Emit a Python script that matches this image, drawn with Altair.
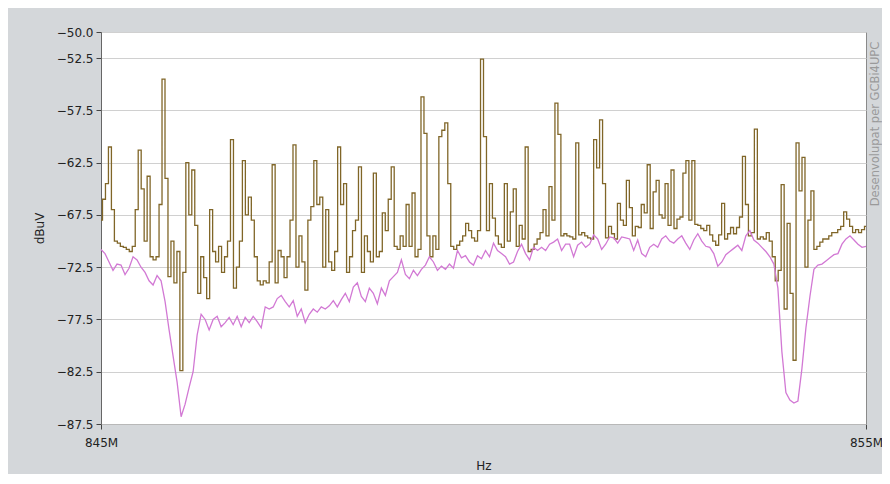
import altair as alt
import numpy as np
import pandas as pd

# Olive/brown trace (peak hold), read left to right
olive_vals = [
    -68, -66, -64.5, -61, -67, -70, -70.2, -70.5, -70.6, -70.8, -71, -70.5, -67, -61.3, -65, -70, -63.8,
    -71.5, -71.8, -71.5, -66.5, -54.5, -64, -73.4, -70, -74, -71, -82.4, -73, -62.5, -67.5, -63.2, -68.5,
    -75, -71.5, -73.5, -75.5, -67, -71, -72, -70.5, -73, -71.5,
    -70, -60.3, -74.5, -72.5, -70, -62.3, -67.5, -65.8, -68, -71.5, -73.8, -74.2, -73.8, -74, -72, -62.7,
    -74, -70.9, -71.5, -73.5, -71.5, -68, -60.8, -72.5, -69.5, -72, -74.7, -68, -66.7, -62.3, -66.5, -65.8,
    -72.5, -67, -72, -72.8, -71, -61, -66.5, -64.5, -73, -71.5, -69,
    -68, -62.9, -73, -69.5, -71, -72, -63.5, -71.5, -71, -67.3, -69, -66, -62.9, -70.5, -70.8, -69.5,
    -70.5, -66.5, -70.5, -65.4, -71.5, -70.8, -56.2, -59.7, -69.5, -71.5, -69.5, -70.8, -60, -59.4, -58.7,
    -64.5, -70.5, -70.8, -70.4, -70, -69.5, -68.3, -69, -69.7, -70, -69, -52.6,
    -60, -69, -64.5, -67.8, -69.5, -70.3, -70.6, -64.5, -70, -67.2, -65, -70.5, -68.5, -69.8, -61, -71,
    -70.8, -70.3, -69.8, -69.2, -67, -69.5, -64.8, -68, -56.8, -59.8, -69.5, -69.3, -69.5, -69.6, -69.8,
    -60.6, -69.4, -69.2, -69.5, -69.7, -69.8, -60.3, -63, -58.4, -64.5, -69.7, -68.6,
    -69.3, -69.8, -66.4, -68, -68.5, -64.2, -66.8, -69.5, -68.6, -68.7, -66.5, -67.3, -62.7, -68.8, -65.3,
    -64.2, -67.5, -67.8, -64.5, -68.5, -63.2, -68.8, -67.9, -67.7, -63.5, -62.3, -68, -62.3, -68.4, -68.5,
    -68.8, -69, -68.5, -69.4, -70, -70.4, -69.4, -66.4, -69.8, -69.3, -68.7, -69.3, -68.7,
    -67.7, -61.9, -66.5, -69.5, -69.2, -59.3, -69.8, -69.6, -69.8, -69.2, -70, -71.5, -73.8, -72.8, -64.6,
    -76.5, -68.3, -75, -81.4, -60.6, -65.2, -62, -72.5, -68, -65.2, -70.8, -70.5, -70.1, -69.8, -69.8,
    -69.5, -69.2, -69.2, -68.9, -68.6, -67.2, -67.9, -68.6, -69.2, -68.9, -69.2, -68.9, -68.6,
]

# Magenta trace (average), read left to right
magenta_vals = [
    -70.8, -71.2, -72, -72.8, -72.2, -72.3, -73.2, -72.6, -71.5, -71.8, -72.5, -73, -73.8, -74.2, -73.3,
    -73.8, -75.8, -78.5, -81, -83.5, -86.8, -85.6, -84, -82.5, -79, -77, -77.5, -78.5, -77.5, -77.2,
    -78.2, -77.8,
    -77.3, -78, -77.2, -78.2, -77.3, -77.8, -77.2, -77.7, -78.3, -76.3, -76.5, -76.3, -75.5, -75.2, -75.8,
    -76.3, -75.7, -77.2, -76.5, -77.8, -77, -76.5, -76.8, -76.3, -76.5, -76.2, -75.7, -76.3, -75.6, -75,
    -75.8, -74.4,
    -74, -75.3, -75.8, -74.5, -75, -76, -74.5, -75.2, -73.8, -73.4, -73, -71.8, -73.2, -73.6, -72.8,
    -73.3, -72.7, -72.3, -71.5, -72, -72.8, -72.4, -72.7, -72.2, -72.6, -70.9, -71.6, -71.4, -72, -72.3,
    -71.4, -71.7,
    -70.9, -71.5, -70.2, -70.9, -71.2, -71.5, -72.2, -72, -71, -70.3, -71.2, -71.8, -70.6, -70.9, -70.6,
    -70.9, -70.3, -70.1, -69.8, -70.9, -70.3, -70.3, -71.5, -70.4, -70.1, -70.6, -70.3, -69.4, -69.8,
    -70.8, -70.3, -69.6,
    -69.7, -70.2, -69.6, -69.7, -69.8, -70.9, -69.9, -71.2, -71.5, -70.6, -70.3, -70.6, -69.8, -69.5, -70,
    -70.2, -69.8, -69.5, -70.2, -70.8, -69.9, -69.3, -70, -70.5, -70.6, -71.2, -72.4, -72, -71.3, -71,
    -70.7, -70.4,
    -70.9, -69.5, -69, -69.9, -70.2, -70.6, -71, -71.5, -72.2, -74.5, -80.6, -84.5, -85.2, -85.5, -85.3,
    -82.2, -78.3, -75.3, -72.7, -72.3, -72.2, -71.9, -71.6, -71.3, -71.2, -70.3, -69.8, -69.5, -69.9,
    -70.3, -70.6, -70.5,
]

y_ticks = [-50.0, -52.5, -57.5, -62.5, -67.5, -72.5, -77.5, -82.5, -87.5]
x_ticks = [845, 855]
f_start, f_end = 845, 855

olive_df = pd.DataFrame({
    "freq": np.linspace(f_start, f_end, len(olive_vals)),
    "dbuv": olive_vals,
})
mag_df = pd.DataFrame({
    "freq": np.linspace(f_start, f_end, len(magenta_vals)),
    "dbuv": magenta_vals,
})

FONT = "DejaVu Sans"

x_enc = alt.X(
    "freq:Q",
    scale=alt.Scale(domain=[f_start, f_end], nice=False, zero=False),
    axis=alt.Axis(
        values=x_ticks, labelExpr="datum.value + 'M'", title="Hz", grid=False,
        labelFlush=False, labelOverlap=False,
        tickSize=5, labelPadding=8, titlePadding=12, domainColor="#b8b8b8",
        tickColor="#444", labelColor="#222", titleColor="#222",
        labelFontSize=12, titleFontSize=12, labelFont=FONT, titleFont=FONT,
        titleFontWeight="normal",
    ),
)
y_enc = alt.Y(
    "dbuv:Q",
    scale=alt.Scale(domain=[-87.5, -50], nice=False, zero=False),
    axis=alt.Axis(
        values=y_ticks, format=".1f", title="dBuV", grid=True, gridColor="#d0d0d0",
        labelFlush=False, labelOverlap=False,
        tickSize=5, labelPadding=3, titlePadding=10, domainColor="#666",
        tickColor="#444", labelColor="#222", titleColor="#222",
        labelFontSize=12, titleFontSize=12, labelFont=FONT, titleFont=FONT,
        titleFontWeight="normal",
    ),
)

olive = alt.Chart(olive_df).mark_line(
    color="#806628", strokeWidth=1.3, interpolate="step"
).encode(x=x_enc, y=y_enc)

magenta = alt.Chart(mag_df).mark_line(
    color="#d279d4", strokeWidth=1.3
).encode(x="freq:Q", y="dbuv:Q")

credit = alt.Chart(pd.DataFrame({"t": ["Desenvolupat per GCBi4UPC"]})).mark_text(
    angle=270, fontSize=11.5, font=FONT, color="#9a9a9a", align="center", baseline="middle"
).encode(x=alt.value(775), y=alt.value(92), text="t:N")

chart = alt.layer(olive, magenta, credit).properties(
    width=765,
    height=392,
    background="#d4d7da",
    autosize=alt.AutoSizeParams(type="none"),
    padding={"left": 93, "top": 24, "right": 16, "bottom": 50},
).configure_view(
    fill="white", stroke="#8a8a8a", strokeWidth=1
)

chart.save("out.html", embed_options={"renderer": "svg", "actions": False})
